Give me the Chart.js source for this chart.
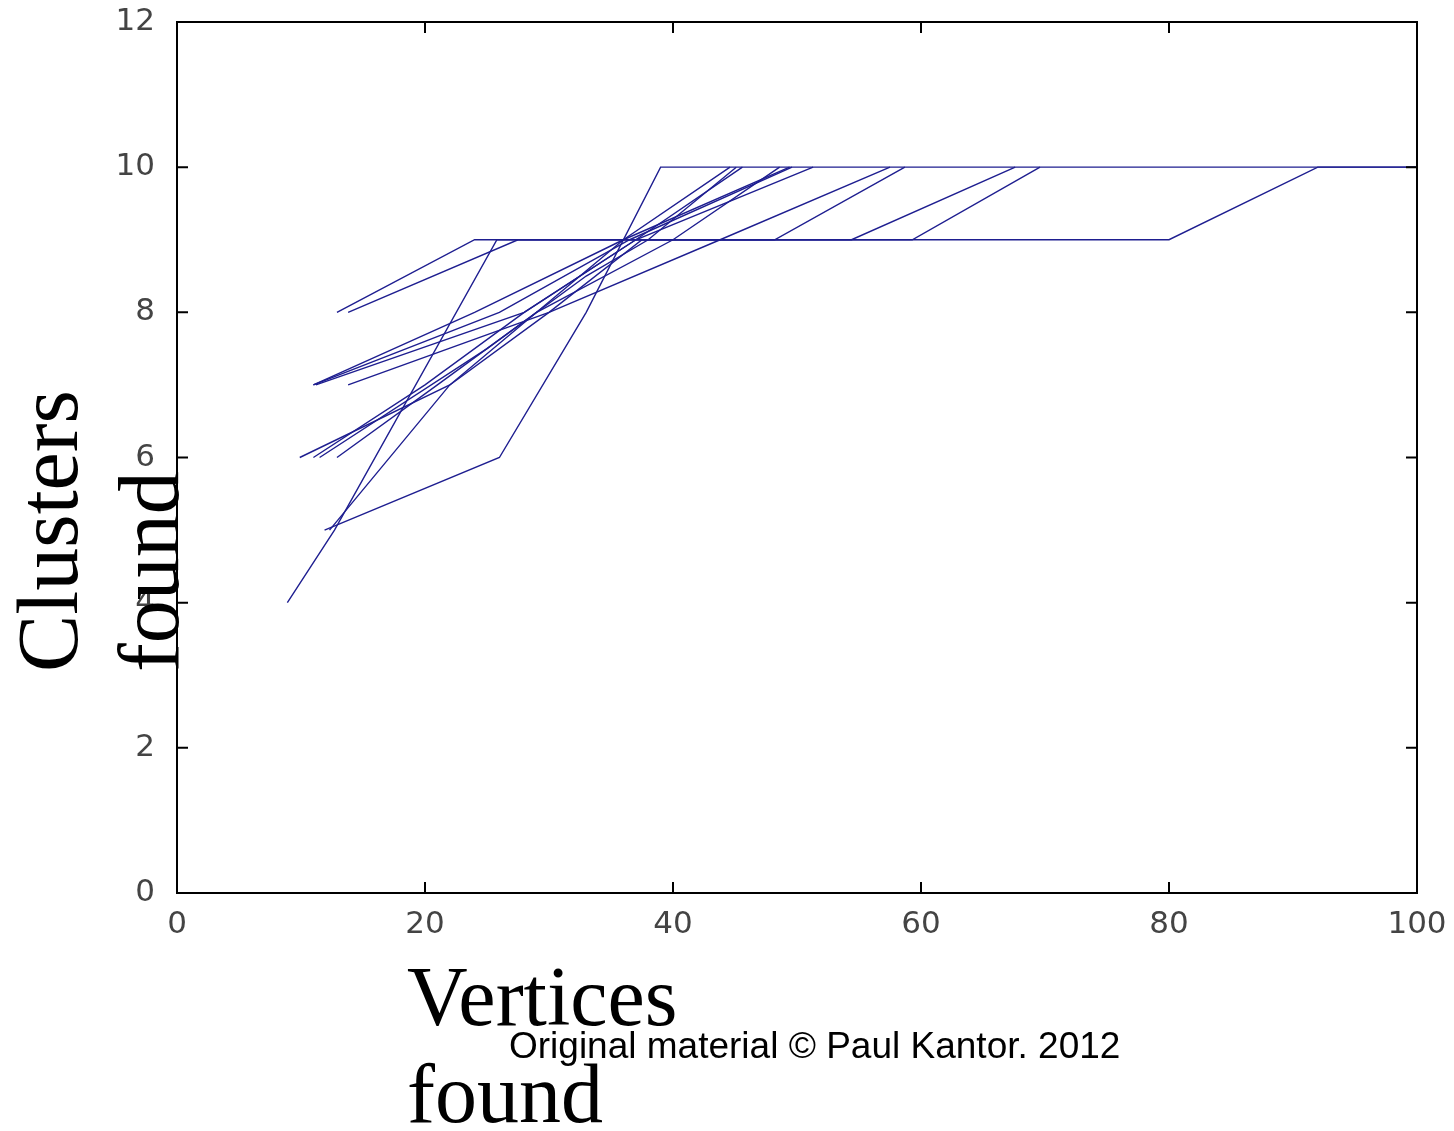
<!DOCTYPE html>
<html>
<head>
<meta charset="utf-8">
<script src="https://cdn.jsdelivr.net/npm/chart.js@4"></script>
<style>
  html, body { margin: 0; padding: 0; background: #fff; }
  #wrap { width: 1454px; height: 1131px; position: relative; }
</style>
</head>
<body>
<div id="wrap"><canvas id="plot"></canvas></div>
<script>
// axis ticks
const xTicks = [0, 20, 40, 60, 80, 100];
const yTicks = [0, 2, 4, 6, 8, 10, 12];

// each run: [vertices found, clusters found]
const run1 = [[8.9, 4], [12.7, 5], [25.8, 9], [54.4, 9], [67.6, 10]];
const run2 = [[12.9, 8], [24, 9], [80, 9], [92, 10], [100, 10]];
const run3 = [[13.8, 8], [27.5, 9], [59.3, 9], [69.6, 10]];
const run4 = [[11.9, 5], [26, 6], [33, 8], [39, 10], [100, 10]];
const run5 = [[11, 7], [24, 8], [36, 9], [49.4, 10]];
const run6 = [[11, 7], [26, 8], [36.5, 9], [49.6, 10]];
const run7 = [[11.2, 7], [28, 8], [37, 9], [51.3, 10]];
const run8 = [[13.8, 7], [30, 8], [43.8, 9], [57.5, 10]];
const run9 = [[9.9, 6], [22, 7], [29, 8], [36, 9], [44.6, 10]];
const run10 = [[11, 6], [20, 7], [28, 8], [37, 9], [45.6, 10]];
const run11 = [[12.9, 6], [21, 7], [29, 8], [40, 9], [48.6, 10]];
const run12 = [[12.3, 5], [22, 7], [30, 8], [37.5, 9], [48.2, 9], [58.7, 10]];
const run13 = [[11.5, 6], [25, 7.5], [33, 8.5], [38, 9], [45.1, 10]];

const runs = [run1, run2, run3, run4, run5, run6, run7, run8, run9, run10, run11, run12, run13];

const xTitle = ['Vertices', 'found'];
const yTitle = ['Clusters', 'found'];
const credit = 'Original material \u00a9 Paul Kantor. 2012';

let datasets = runs.map((r, i) => ({
    label: `run ${i + 1}`,
    data: r.map(p => ({x: p[0], y: p[1]})),
    borderColor: '#1e1e90',
    backgroundColor: '#1e1e90',
    borderWidth: 1.4,
    fill: false,
    tension: 0
}));

// box round the plot, ticks pointing inward, and the big titles
const matlabFrame = {
    id: 'matlabFrame',
    afterDatasetsDraw(chart) {
        const ctx = chart.ctx;
        const a = chart.chartArea;
        const xs = chart.scales.x, ys = chart.scales.y;
        ctx.save();
        ctx.strokeStyle = '#000';
        ctx.lineWidth = 2;
        ctx.strokeRect(a.left, a.top, a.right - a.left, a.bottom - a.top);
        ctx.beginPath();
        xTicks.forEach(v => {
            const px = xs.getPixelForValue(v);
            ctx.moveTo(px, a.bottom); ctx.lineTo(px, a.bottom - 11);
            ctx.moveTo(px, a.top); ctx.lineTo(px, a.top + 11);
        });
        yTicks.forEach(v => {
            const py = ys.getPixelForValue(v);
            ctx.moveTo(a.left, py); ctx.lineTo(a.left + 11, py);
            ctx.moveTo(a.right, py); ctx.lineTo(a.right - 11, py);
        });
        ctx.stroke();
        ctx.restore();
    },
    afterDraw(chart) {
        const ctx = chart.ctx;
        ctx.save();
        ctx.fillStyle = '#000';
        ctx.textBaseline = 'alphabetic';
        ctx.textAlign = 'left';

        ctx.font = '86px "Liberation Serif", "Times New Roman", serif';
        [77, 178].forEach((bx, i) => {
            ctx.save();
            ctx.translate(bx, 672);
            ctx.rotate(-Math.PI / 2);
            ctx.fillText(yTitle[i], 0, 0);
            ctx.restore();
        });

        ctx.font = '84px "Liberation Serif", "Times New Roman", serif';
        ctx.fillText(xTitle[0], 407, 1025);
        ctx.fillText(xTitle[1], 407, 1122);

        ctx.font = '37px "Liberation Sans", Arial, sans-serif';
        ctx.fillText(credit, 509, 1058);
        ctx.restore();
    }
};

const tickFont = {family: '"DejaVu Sans", sans-serif', size: 31};

new Chart(document.getElementById('plot'), {
    type: 'line',
    data: {datasets: datasets},
    options: {
        responsive: true,
        maintainAspectRatio: false,
        animation: false,
        layout: {padding: {top: 22, right: 37, left: 0, bottom: 0}},
        plugins: {legend: {display: false}, tooltip: {enabled: false}},
        elements: {point: {radius: 0}},
        scales: {
            x: {
                type: 'linear',
                min: 0, max: 100,
                grid: {display: false},
                border: {display: false},
                afterBuildTicks: s => { s.ticks = xTicks.map(v => ({value: v})); },
                afterFit: s => { s.height = 1131 - 893; s.paddingLeft = 0; s.paddingRight = 0; },
                ticks: {color: '#444', font: tickFont, padding: 5, maxRotation: 0}
            },
            y: {
                type: 'linear',
                min: 0, max: 12,
                grid: {display: false},
                border: {display: false},
                afterBuildTicks: s => { s.ticks = yTicks.map(v => ({value: v})); },
                afterFit: s => { s.width = 177; s.paddingTop = 0; s.paddingBottom = 0; },
                ticks: {color: '#444', font: tickFont, padding: 14}
            }
        }
    },
    plugins: [matlabFrame]
});
</script>
</body>
</html>
